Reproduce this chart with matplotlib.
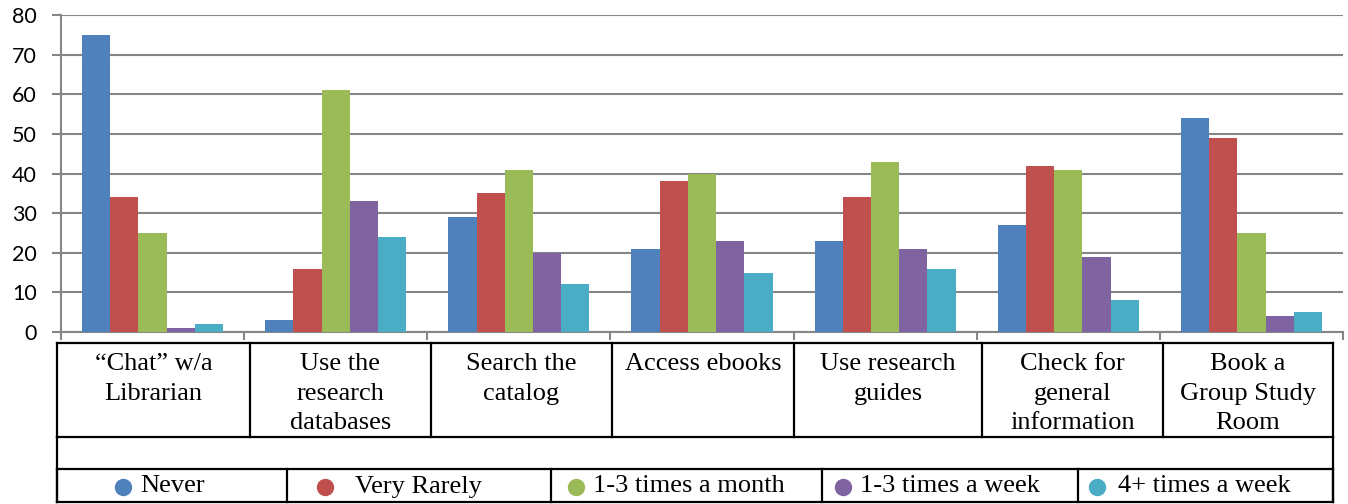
import matplotlib.pyplot as plt
import numpy as np

categories = ['\u201cChat\u201d w/a\nLibrarian', 'Use the\nresearch\ndatabases',
              'Search the\ncatalog', 'Access ebooks', 'Use research\nguides',
              'Check for\ngeneral\ninformation', 'Book a\nGroup Study\nRoom']
series = ['Never', 'Very Rarely', '1-3 times a month', '1-3 times a week', '4+ times a week']
never = [75, 3, 29, 21, 23, 27, 54]
very_rarely = [34, 16, 35, 38, 34, 42, 49]
month_1_3 = [25, 61, 41, 40, 43, 41, 25]
week_1_3 = [1, 33, 20, 23, 21, 19, 4]
week_4plus = [2, 24, 12, 15, 16, 8, 5]
colors = ['#4F81BD', '#C0504D', '#9BBB59', '#8064A2', '#4BACC6']

W, H = 1348, 504
fig = plt.figure(figsize=(W / 100, H / 100), dpi=100)

# chart area (pixel layout of the reference)
ax_l, ax_r, ax_t, ax_b = 61, 1343, 15, 332
ax = fig.add_axes([ax_l / W, 1 - ax_b / H, (ax_r - ax_l) / W, (ax_b - ax_t) / H])

data = [never, very_rarely, month_1_3, week_1_3, week_4plus]
x = np.arange(len(categories))
bw = 0.154
for i, (vals, c) in enumerate(zip(data, colors)):
    ax.bar(x + (i - 2) * bw, vals, width=bw, color=c, zorder=3, label=series[i])

ax.set_xlim(-0.5, len(categories) - 0.5)
ax.set_ylim(0, 80)
ax.set_yticks(range(0, 81, 10))
ax.yaxis.grid(True, color='#868686', linewidth=1.5, zorder=0)
ax.set_axisbelow(True)
ax.set_xticks([])
ax.set_xticks(np.arange(-0.5, len(categories)), minor=True)
ax.tick_params(axis='x', which='minor', length=6, width=1.5, color='#868686', labelbottom=False)
ax.tick_params(axis='y', length=6.5, width=1.5, color='#868686', pad=11,
               labelsize=15.5)
for lbl in ax.get_yticklabels():
    lbl.set_family(['Lato', 'DejaVu Sans'])
for s in ['top', 'right']:
    ax.spines[s].set_visible(False)
for s in ['left', 'bottom']:
    ax.spines[s].set_color('#868686')
    ax.spines[s].set_linewidth(1.5)

# data table below the chart, drawn in pixel coordinates
tab = fig.add_axes([0, 0, 1, 1])
tab.set_xlim(0, W)
tab.set_ylim(H, 0)
tab.axis('off')

t_l, t_r = 57, 1333
row_top, row1_bot, row2_bot, row3_bot = 343, 437, 469, 502
col_edges = [57, 250, 431, 612, 794, 982, 1163, 1333]
leg_edges = [57, 287, 551, 822, 1078, 1333]
lw = 1.6
for y in [row_top, row1_bot, row2_bot, row3_bot]:
    tab.plot([t_l, t_r], [y, y], color='black', lw=lw)
for xe in col_edges:
    tab.plot([xe, xe], [row_top, row1_bot], color='black', lw=lw)
for xe in [t_l, t_r]:
    tab.plot([xe, xe], [row1_bot, row3_bot], color='black', lw=lw)
for xe in leg_edges:
    tab.plot([xe, xe], [row2_bot, row3_bot], color='black', lw=lw)

serif = ['Liberation Serif', 'DejaVu Serif']
for i, cat in enumerate(categories):
    cx = (col_edges[i] + col_edges[i + 1]) / 2
    tab.text(cx, row_top + 10, cat, ha='center', va='top', fontsize=19,
             family=serif, linespacing=1.45)

marker_x = [123, 325, 576, 843, 1097]
text_x = [140, 355, 593, 860, 1118]
ly = (row2_bot + row3_bot) / 2 + 1
for i, name in enumerate(series):
    tab.plot(marker_x[i], ly, 'o', color=colors[i], markersize=11.5)
    tab.text(text_x[i], ly, name, ha='left', va='center', fontsize=19, family=serif)

fig.savefig('out.png', dpi=100)
